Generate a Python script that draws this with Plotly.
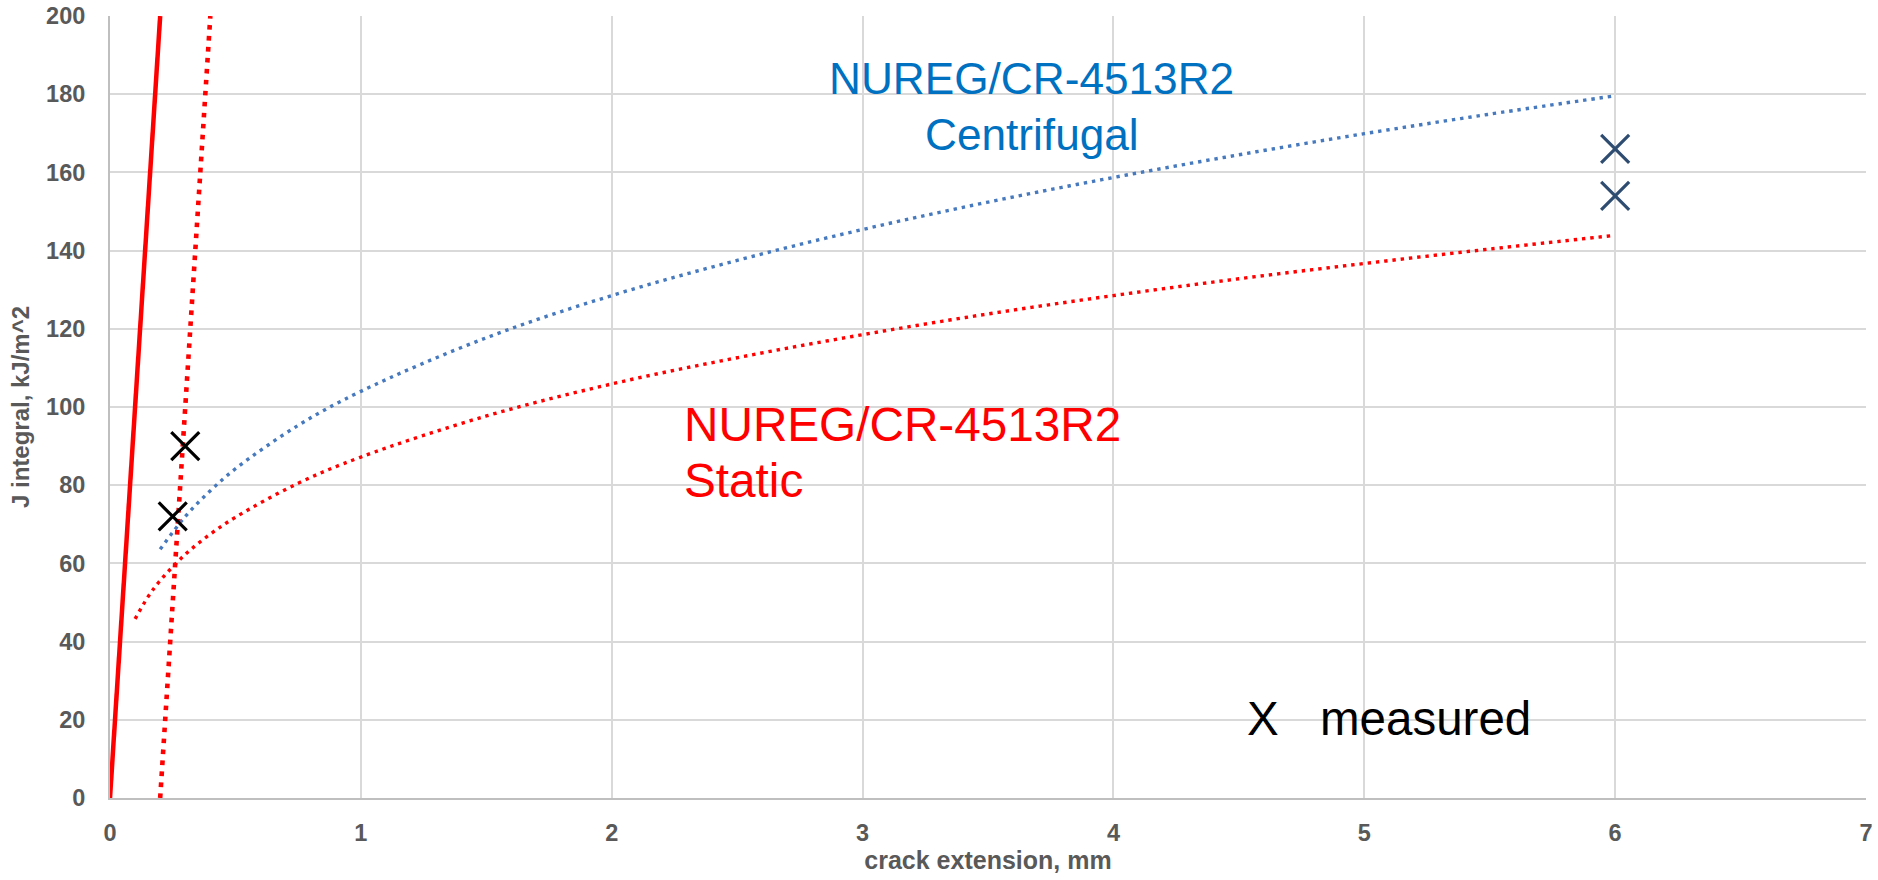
import plotly.graph_objects as go

# Power-law resistance curves (J-R), crack extension in mm, J in kJ/m^2
crack_ext_centrifugal = [0.2, 0.3, 0.4, 0.5, 0.75, 1, 1.5, 2, 2.5, 3, 3.5, 4, 4.5, 5, 5.5, 6]
j_centrifugal = [63.6, 72.0, 78.6, 84.2, 95.3, 104.0, 117.7, 128.5, 137.5, 145.4,
                 152.4, 158.7, 164.5, 169.9, 174.9, 179.6]

crack_ext_static = [0.1, 0.15, 0.2, 0.3, 0.4, 0.5, 0.75, 1, 1.5, 2, 2.5, 3, 3.5, 4,
                    4.5, 5, 5.5, 6]
j_static = [45.8, 51.3, 55.6, 62.3, 67.5, 71.8, 80.5, 87.2, 97.7, 105.9, 112.6,
            118.5, 123.8, 128.5, 132.8, 136.7, 140.4, 143.9]

# Blunting line and its 0.2 mm offset exclusion line
blunt_x = [0, 0.2]
blunt_y = [0, 200]
offset_x = [0.2, 0.4]
offset_y = [0, 200]

# Test results
measured_low_x = [0.25, 0.30]
measured_low_y = [72, 90]
measured_high_x = [6, 6]
measured_high_y = [166, 154]

x_ticks = [0, 1, 2, 3, 4, 5, 6, 7]
y_ticks = [0, 20, 40, 60, 80, 100, 120, 140, 160, 180, 200]

FONT = "Liberation Sans, Arial, sans-serif"
GREY = "#595959"

fig = go.Figure()

fig.add_trace(go.Scatter(
    x=crack_ext_centrifugal, y=j_centrifugal, mode="lines",
    line=dict(color="#4679BD", width=3.4, dash="3.4px,4.9px", shape="spline"),
    hoverinfo="skip", showlegend=False))

fig.add_trace(go.Scatter(
    x=crack_ext_static, y=j_static, mode="lines",
    line=dict(color="#FF0000", width=3.4, dash="3.4px,4.9px", shape="spline"),
    hoverinfo="skip", showlegend=False))

fig.add_trace(go.Scatter(
    x=blunt_x, y=blunt_y, mode="lines",
    line=dict(color="#FF0000", width=4.5),
    hoverinfo="skip", showlegend=False))

fig.add_trace(go.Scatter(
    x=offset_x, y=offset_y, mode="lines",
    line=dict(color="#FF0000", width=4.6, dash="4.6px,6.4px"),
    hoverinfo="skip", showlegend=False))

fig.add_trace(go.Scatter(
    x=measured_low_x, y=measured_low_y, mode="markers",
    marker=dict(symbol="x-thin", size=28, line=dict(color="#000000", width=3.2)),
    showlegend=False))

fig.add_trace(go.Scatter(
    x=measured_high_x, y=measured_high_y, mode="markers",
    marker=dict(symbol="x-thin", size=28, line=dict(color="#2E4B70", width=3.2)),
    showlegend=False))

annotations = [
    dict(x=3.675, y=183.9, text="NUREG/CR-4513R2", xanchor="center", yanchor="middle",
         font=dict(family=FONT, size=44.2, color="#0070C0")),
    dict(x=3.675, y=169.6, text="Centrifugal", xanchor="center", yanchor="middle",
         font=dict(family=FONT, size=44.2, color="#0070C0")),
    dict(x=2.28, y=95.5, text="NUREG/CR-4513R2", xanchor="left", yanchor="middle",
         font=dict(family=FONT, size=47.7, color="#FF0000")),
    dict(x=2.28, y=81.1, text="Static", xanchor="left", yanchor="middle",
         font=dict(family=FONT, size=47.7, color="#FF0000")),
    dict(x=4.595, y=20.4, text="X", xanchor="center", yanchor="middle",
         font=dict(family=FONT, size=47.5, color="#000000")),
    dict(x=4.815, y=20.4, text="measured", xanchor="left", yanchor="middle",
         font=dict(family=FONT, size=47.5, color="#000000")),
]
for a in annotations:
    a.update(xref="x", yref="y", showarrow=False)

fig.update_layout(
    width=1878, height=880,
    margin=dict(l=110, r=12, t=16, b=82, autoexpand=False),
    paper_bgcolor="white", plot_bgcolor="white",
    font=dict(family=FONT, color=GREY),
    annotations=annotations,
    xaxis=dict(
        range=[0, 7], tickvals=x_ticks, ticktext=[str(v) for v in x_ticks],
        automargin=False,
        showgrid=True, gridcolor="#D9D9D9", gridwidth=2,
        showline=True, linecolor="#BFBFBF", linewidth=2,
        zeroline=False, ticks="", ticklabelstandoff=13,
        tickfont=dict(family=FONT, size=23.5, color=GREY, weight="bold"),
        title=dict(text="crack extension, mm", standoff=5,
                   font=dict(family=FONT, size=25, color=GREY, weight="bold")),
    ),
    yaxis=dict(
        range=[0, 200], tickvals=y_ticks, ticktext=[str(v) for v in y_ticks],
        automargin=False,
        showgrid=True, gridcolor="#D9D9D9", gridwidth=2,
        showline=True, linecolor="#BFBFBF", linewidth=2,
        zeroline=False, ticks="", ticklabelstandoff=18,
        tickfont=dict(family=FONT, size=23.5, color=GREY, weight="bold"),
        title=dict(text="J integral, kJ/m^2", standoff=10,
                   font=dict(family=FONT, size=24, color=GREY, weight="bold")),
    ),
)

fig.write_html("out.html")
